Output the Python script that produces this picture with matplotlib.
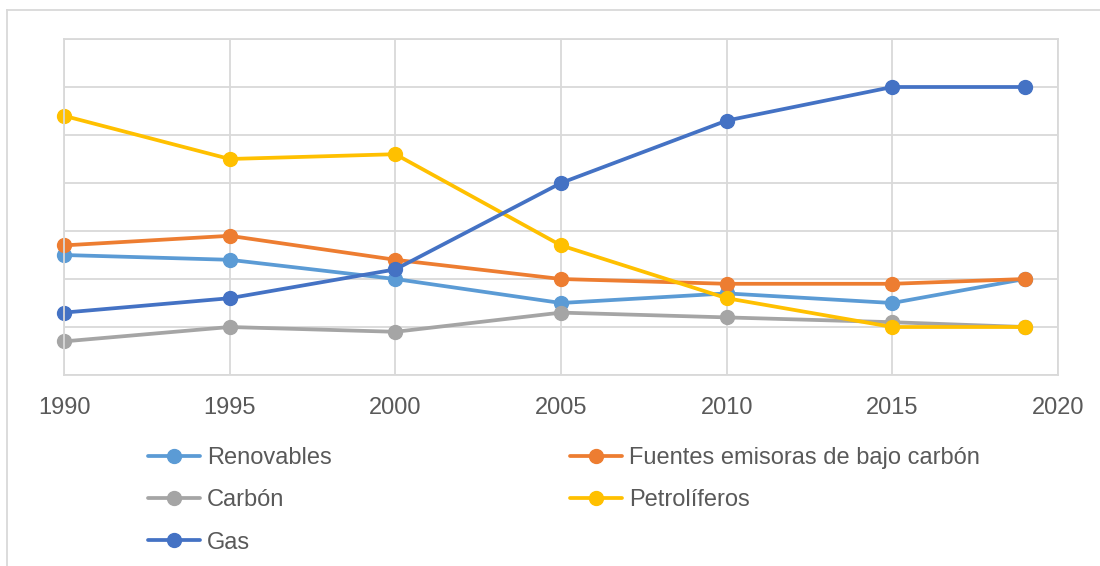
import matplotlib.pyplot as plt
from matplotlib.lines import Line2D

plt.rcParams['font.family'] = ['Liberation Sans', 'DejaVu Sans']

years = [1990, 1995, 2000, 2005, 2010, 2015, 2019]
renovables = [2.5, 2.4, 2.0, 1.5, 1.7, 1.5, 2.0]
fuentes_bajo_carbon = [2.7, 2.9, 2.4, 2.0, 1.9, 1.9, 2.0]
carbon = [0.7, 1.0, 0.9, 1.3, 1.2, 1.1, 1.0]
petroliferos = [5.4, 4.5, 4.6, 2.7, 1.6, 1.0, 1.0]
gas = [1.3, 1.6, 2.2, 4.0, 5.3, 6.0, 6.0]

series = [
    ('Renovables', renovables, '#5B9BD5'),
    ('Fuentes emisoras de bajo carbón', fuentes_bajo_carbon, '#ED7D31'),
    ('Carbón', carbon, '#A5A5A5'),
    ('Petrolíferos', petroliferos, '#FFC000'),
    ('Gas', gas, '#4472C4'),
]

grid_col = '#D9D9D9'
text_col = '#595959'

fig = plt.figure(figsize=(11, 5.66), dpi=100)
ax = fig.add_axes([64 / 1100, 1 - 375 / 566, 994 / 1100, 336 / 566])

lines = {}
for name, vals, col in series:
    ln, = ax.plot(years, vals, color=col, linewidth=2.7, marker='o',
                  markersize=10, label=name, solid_capstyle='round',
                  clip_on=False)
    lines[name] = ln

ax.set_xlim(1990, 2020)
ax.set_ylim(0, 7)
ax.set_xticks(range(1990, 2021, 5))
ax.set_yticks(range(0, 8))
ax.set_yticklabels([])
ax.grid(True, color=grid_col, linewidth=1.3)
ax.set_axisbelow(True)
for sp in ax.spines.values():
    sp.set_color(grid_col)
    sp.set_linewidth(1.3)
ax.tick_params(axis='both', length=0, labelsize=17, labelcolor=text_col)
ax.tick_params(axis='x', pad=16)

# legend: row-major order across two columns
order = ['Renovables', 'Carbón', 'Gas', 'Fuentes emisoras de bajo carbón', 'Petrolíferos']
leg = fig.legend([lines[n] for n in order], order, ncol=2, loc='upper left',
                 bbox_to_anchor=(148 / 1100, 1 - 447 / 566), frameon=False,
                 fontsize=17, handlelength=2.2, handletextpad=0.3,
                 labelspacing=0.86, columnspacing=10.1, borderpad=0,
                 borderaxespad=0)
for t in leg.get_texts():
    t.set_color(text_col)

# outer chart border
fig.add_artist(Line2D([7 / 1100, 1], [1 - 10 / 566] * 2, color=grid_col, linewidth=1.3))
fig.add_artist(Line2D([7 / 1100] * 2, [0, 1 - 10 / 566], color=grid_col, linewidth=1.3))

fig.savefig('out.png', dpi=100)
